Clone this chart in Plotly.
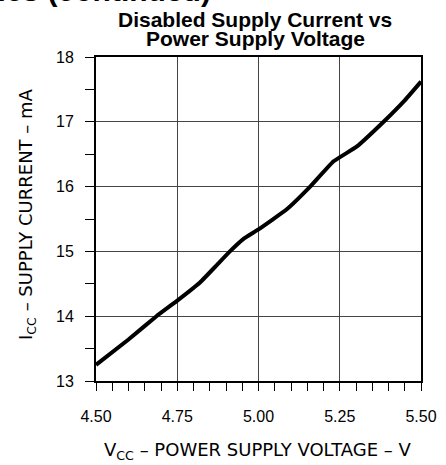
import plotly.graph_objects as go

vcc = [4.50, 4.60, 4.686, 4.75, 4.82, 4.87, 4.912, 4.953, 5.00, 5.087, 5.159, 5.231, 5.303, 5.385, 5.45, 5.50]
icc = [13.25, 13.64, 14.00, 14.24, 14.52, 14.78, 15.00, 15.19, 15.34, 15.65, 16.00, 16.39, 16.62, 17.00, 17.33, 17.62]

x_ticks = [4.50, 4.75, 5.00, 5.25, 5.50]
x_labels = ["4.50", "4.75", "5.00", "5.25", "5.50"]
y_ticks = [13, 14, 15, 16, 17, 18]

W, H = 446, 465
L, R, T, B = 96, 25, 57, 84
pw = W - L - R
ph = H - T - B


def px(x):
    return (x - L) / pw


def py(y):
    return 1 - (y - T) / ph


fig = go.Figure()
fig.add_trace(go.Scatter(x=vcc, y=icc, mode="lines",
                         line=dict(color="black", width=4, shape="spline", smoothing=0.3),
                         hoverinfo="skip", showlegend=False))

tickfont = dict(family="Liberation Sans, Arial, sans-serif", size=16, color="black")
titlefont = dict(family="DejaVu Sans, sans-serif", size=18, color="black")

fig.update_xaxes(range=[4.5, 5.5], tickvals=x_ticks, ticktext=x_labels, automargin=False,
                 showgrid=True, gridcolor="#444", gridwidth=1,
                 showline=True, linecolor="black", linewidth=2, mirror=True,
                 ticks="outside", ticklen=8, tickwidth=1, tickcolor="black",
                 minor=dict(dtick=0.05, ticks="outside", ticklen=8, tickwidth=1, tickcolor="black", showgrid=False),
                 tickfont=tickfont, zeroline=False, ticklabelstandoff=12)
fig.update_yaxes(range=[13, 18], tickvals=y_ticks, automargin=False,
                 showgrid=True, gridcolor="#444", gridwidth=1,
                 showline=True, linecolor="black", linewidth=2, mirror=True,
                 ticks="outside", ticklen=9, tickwidth=1, tickcolor="black",
                 minor=dict(dtick=0.5, ticks="outside", ticklen=9, tickwidth=1, tickcolor="black", showgrid=False),
                 tickfont=tickfont, zeroline=False, ticklabelstandoff=8)

# axis titles
fig.add_annotation(text="V<sub>CC</sub> – POWER SUPPLY VOLTAGE – V",
                   xref="paper", yref="paper", x=px(257.5), y=py(451), xanchor="center", yanchor="middle",
                   showarrow=False, font=titlefont)
fig.add_annotation(text="I<sub>CC</sub> – SUPPLY CURRENT – mA", textangle=-90,
                   xref="paper", yref="paper", x=px(27), y=py(214), xanchor="center", yanchor="middle",
                   showarrow=False, font=titlefont)

# chart title (two lines)
title_font = dict(family="Liberation Sans, Arial, sans-serif", size=21, color="black")
fig.add_annotation(text="<b>Disabled Supply Current vs</b>",
                   xref="paper", yref="paper", x=px(255), y=py(20), xanchor="center", yanchor="middle",
                   showarrow=False, font=title_font)
fig.add_annotation(text="<b>Power Supply Voltage</b>",
                   xref="paper", yref="paper", x=px(255), y=py(39), xanchor="center", yanchor="middle",
                   showarrow=False, font=title_font)

# cut-off page header
fig.add_annotation(text="<b>Typical Characteristics (continued)</b>",
                   xref="paper", yref="paper", x=px(213), y=py(-28), xanchor="right", yanchor="top",
                   showarrow=False,
                   font=dict(family="Liberation Sans, Arial, sans-serif", size=30, color="black"))

fig.update_layout(width=W, height=H, margin=dict(l=L, r=R, t=T, b=B),
                  plot_bgcolor="white", paper_bgcolor="white")

fig.write_html("out.html", config={"displayModeBar": False},
               post_script="document.body.style.margin='0';")
